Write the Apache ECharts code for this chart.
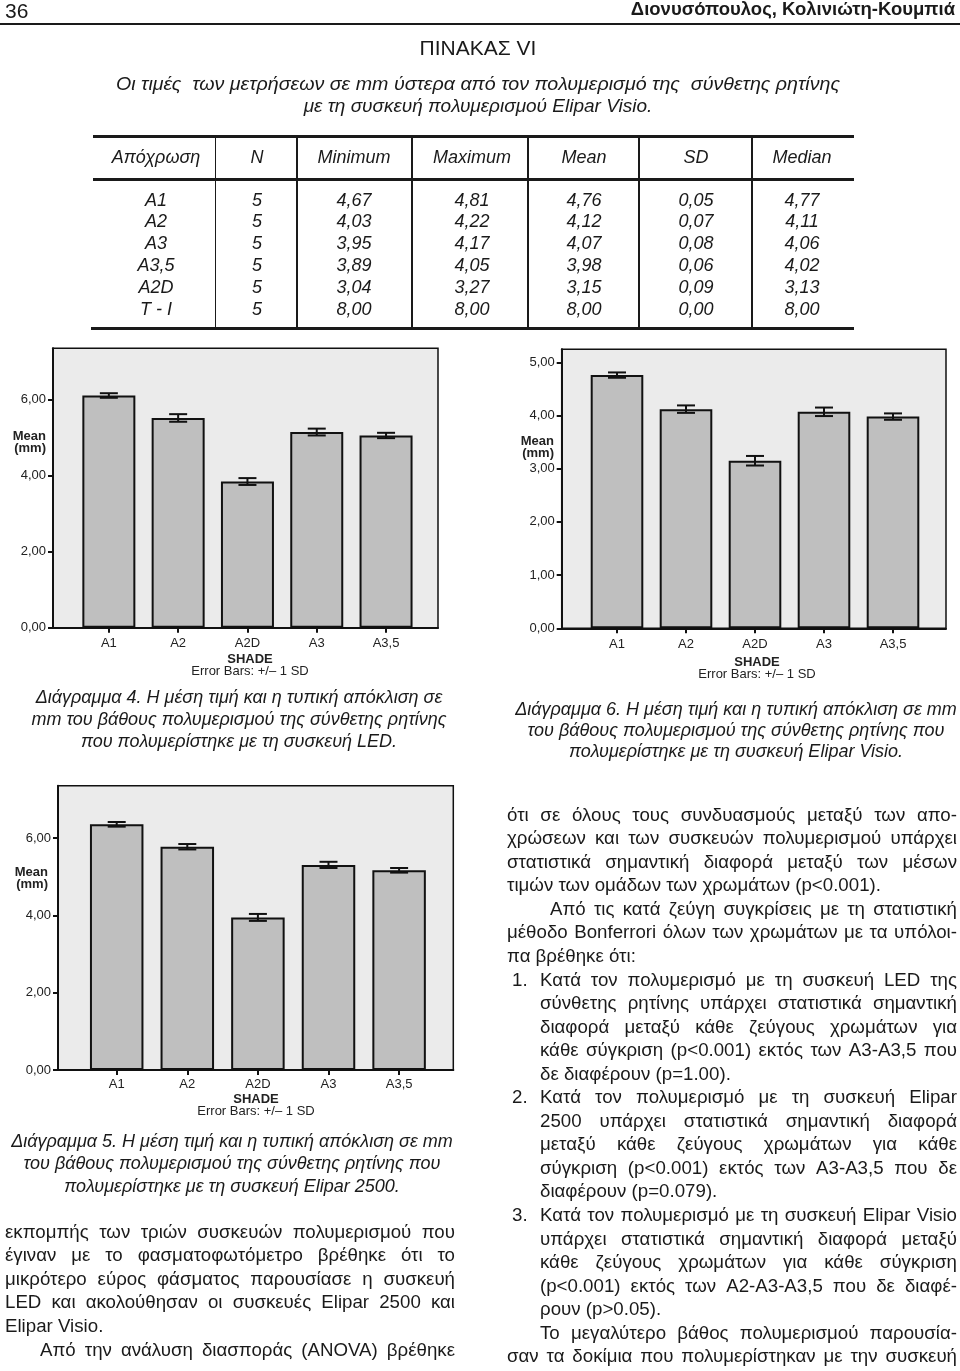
<!DOCTYPE html>
<html>
<head>
<meta charset="UTF-8">
<title>Πίνακας VI - Διαγράμματα 4-6</title>
<script src="https://cdn.jsdelivr.net/npm/echarts@6/dist/echarts.min.js"></script>
<style>
body {
    margin: 0;
    padding: 0;
    background: #fff;
}
#page {
    position: relative;
    width: 960px;
    height: 1371px;
    overflow: hidden;
    font-family: "Liberation Sans", Arial, sans-serif;
    color: #1a1a1a;
}
#charts {
    position: absolute;
    left: 0;
    top: 0;
    width: 960px;
    height: 1371px;
}
.t {
    position: absolute;
    white-space: pre;
    line-height: 1;
    z-index: 2;
}
.rule {
    position: absolute;
    background: #1a1a1a;
    z-index: 2;
}
</style>
</head>
<body>
<div id="page">
  <div id="charts"></div>
</div>

<script>
// ---- data ----
var categories = ['A1', 'A2', 'A2D', 'A3', 'A3,5'];

// Διάγραμμα 4 (LED)
var ledMean = [6.10, 5.51, 3.84, 5.14, 5.05];
var ledSd   = [0.06, 0.10, 0.09, 0.09, 0.07];
// Διάγραμμα 5 (Elipar 2500)
var e2500Mean = [6.36, 5.78, 3.95, 5.31, 5.17];
var e2500Sd   = [0.06, 0.07, 0.09, 0.08, 0.06];
// Διάγραμμα 6 (Elipar Visio)
var visioMean = [4.76, 4.12, 3.15, 4.07, 3.98];
var visioSd   = [0.05, 0.07, 0.09, 0.08, 0.06];

var ticksBy2 = [0, 2, 4, 6];
var ticksBy1 = [0, 1, 2, 3, 4, 5];

// Πίνακας VI
var tableHead   = ['Απόχρωση', 'N', 'Minimum', 'Maximum', 'Mean', 'SD', 'Median'];
var tableShade  = ['A1', 'A2', 'A3', 'A3,5', 'A2D', 'T - I'];
var tableN      = ['5', '5', '5', '5', '5', '5'];
var tableMin    = ['4,67', '4,03', '3,95', '3,89', '3,04', '8,00'];
var tableMax    = ['4,81', '4,22', '4,17', '4,05', '3,27', '8,00'];
var tableMeanV  = ['4,76', '4,12', '4,07', '3,98', '3,15', '8,00'];
var tableSd     = ['0,05', '0,07', '0,08', '0,06', '0,09', '0,00'];
var tableMedian = ['4,77', '4,11', '4,06', '4,02', '3,13', '8,00'];

// ---- text helpers ----
var page = document.getElementById('page');
var FONT = '"Liberation Sans", Arial, sans-serif';

// o: size, bold, italic, align (left|center|right), right (for justify), fit (target width)
function put(txt, x, y, o) {
    o = o || {};
    var size = o.size || 18;
    var d = document.createElement('div');
    d.className = 't';
    d.textContent = txt;
    d.style.fontSize = size + 'px';
    if (o.bold) d.style.fontWeight = 'bold';
    if (o.italic) d.style.fontStyle = 'italic';
    d.style.top = (y - size / 2) + 'px';
    d.style.left = '0px';
    page.appendChild(d);
    var w = d.getBoundingClientRect().width;
    if (o.right !== undefined) {
        var n = (txt.match(/ /g) || []).length;
        if (n > 0) d.style.wordSpacing = ((o.right - x - w) / n) + 'px';
        d.style.left = x + 'px';
        return d;
    }
    if (o.fit) {
        var s = o.fit / w;
        d.style.transformOrigin = '0 50%';
        d.style.transform = 'scaleX(' + s + ')';
        w = o.fit;
    }
    var a = o.align || 'left';
    if (a === 'center') d.style.left = (x - w / 2) + 'px';
    else if (a === 'right') d.style.left = (x - w) + 'px';
    else d.style.left = x + 'px';
    return d;
}
function rule(x1, x2, y, h) {
    var r = document.createElement('div');
    r.className = 'rule';
    r.style.left = x1 + 'px';
    r.style.top = (y - h / 2) + 'px';
    r.style.width = (x2 - x1) + 'px';
    r.style.height = h + 'px';
    page.appendChild(r);
}
function vrule(x, y1, y2, w) {
    var r = document.createElement('div');
    r.className = 'rule';
    r.style.left = (x - w / 2) + 'px';
    r.style.top = y1 + 'px';
    r.style.width = w + 'px';
    r.style.height = (y2 - y1) + 'px';
    page.appendChild(r);
}

// ---- running head ----
put('36', 5, 10, {size: 21});
put('Διονυσόπουλος, Κολινιώτη-Κουμπιά', 955, 9, {size: 18.5, bold: true, align: 'right'});
rule(0, 960, 24, 2);

// ---- table ----
put('ΠΙΝΑΚΑΣ VI', 478, 47, {size: 21, align: 'center'});
put('Οι τιμές  των μετρήσεων σε mm ύστερα από τον πολυμερισμό της  σύνθετης ρητίνης', 478, 83, {size: 19, italic: true, align: 'center', fit: 724});
put('με τη συσκευή πολυμερισμού Elipar Visio.', 478, 105, {size: 19, italic: true, align: 'center'});

var colX = [156, 257, 354, 472, 584, 696, 802];
var sepX = [215.5, 297, 412, 528, 639, 752];
var rowY = [199.5, 221.3, 243.2, 265, 286.8, 308.5];
rule(93, 854, 136.5, 3);
rule(93, 854, 179.5, 3);
rule(91, 854, 328.5, 3);
sepX.forEach(function (x) { vrule(x, 136, 329, 1.2); });
tableHead.forEach(function (h, i) {
    put(h, colX[i], 157, {size: 18, italic: true, align: 'center'});
});
var cols = [tableShade, tableN, tableMin, tableMax, tableMeanV, tableSd, tableMedian];
cols.forEach(function (col, c) {
    col.forEach(function (v, r) {
        put(v, colX[c], rowY[r], {size: 18, italic: true, align: 'center'});
    });
});

// ---- captions ----
var capStyle = {size: 18, italic: true, align: 'center'};
put('Διάγραμμα 4. Η μέση τιμή και η τυπική απόκλιση σε', 239, 697, capStyle);
put('mm του βάθους πολυμερισμού της σύνθετης ρητίνης', 239, 719, capStyle);
put('που πολυμερίστηκε με τη συσκευή LED.', 239, 741, capStyle);

put('Διάγραμμα 6. Η μέση τιμή και η τυπική απόκλιση σε mm', 736, 709, capStyle);
put('του βάθους πολυμερισμού της σύνθετης ρητίνης που', 736, 730, capStyle);
put('πολυμερίστηκε με τη συσκευή Elipar Visio.', 736, 751, capStyle);

put('Διάγραμμα 5. Η μέση τιμή και η τυπική απόκλιση σε mm', 232, 1141, capStyle);
put('του βάθους πολυμερισμού της σύνθετης ρητίνης που', 232, 1163, capStyle);
put('πολυμερίστηκε με τη συσκευή Elipar 2500.', 232, 1186, capStyle);

// ---- body text ----
// [text, left, justify, list number]
var rightLines = [
    ['ότι σε όλους τους συνδυασμούς μεταξύ των απο-', 507, 1],
    ['χρώσεων και των συσκευών πολυμερισμού υπάρχει', 507, 1],
    ['στατιστικά σημαντική διαφορά μεταξύ των μέσων', 507, 1],
    ['τιμών των ομάδων των χρωμάτων (p<0.001).', 507, 0],
    ['Από τις κατά ζεύγη συγκρίσεις με τη στατιστική', 550, 1],
    ['μέθοδο Bonferrori όλων των χρωμάτων με τα υπόλοι-', 507, 1],
    ['πα βρέθηκε ότι:', 507, 0],
    ['Κατά τον πολυμερισμό με τη συσκευή LED της', 540, 1, '1.'],
    ['σύνθετης ρητίνης υπάρχει στατιστικά σημαντική', 540, 1],
    ['διαφορά μεταξύ κάθε ζεύγους χρωμάτων για', 540, 1],
    ['κάθε σύγκριση (p<0.001) εκτός των A3-A3,5 που', 540, 1],
    ['δε διαφέρουν (p=1.00).', 540, 0],
    ['Κατά τον πολυμερισμό με τη συσκευή Elipar', 540, 1, '2.'],
    ['2500 υπάρχει στατιστικά σημαντική διαφορά', 540, 1],
    ['μεταξύ κάθε ζεύγους χρωμάτων για κάθε', 540, 1],
    ['σύγκριση (p<0.001) εκτός των A3-A3,5 που δε', 540, 1],
    ['διαφέρουν (p=0.079).', 540, 0],
    ['Κατά τον πολυμερισμό με τη συσκευή Elipar Visio', 540, 1, '3.'],
    ['υπάρχει στατιστικά σημαντική διαφορά μεταξύ', 540, 1],
    ['κάθε ζεύγους χρωμάτων για κάθε σύγκριση', 540, 1],
    ['(p<0.001) εκτός των A2-A3-A3,5 που δε διαφέ-', 540, 1],
    ['ρουν (p>0.05).', 540, 0],
    ['Το μεγαλύτερο βάθος πολυμερισμού παρουσία-', 540, 1],
    ['σαν τα δοκίμια που πολυμερίστηκαν με την συσκευή', 507, 1]
];
var bodySize = 18.7;
rightLines.forEach(function (l, k) {
    var y = 815 + 23.55 * k;
    put(l[0], l[1], y, l[2] ? {size: bodySize, right: 957} : {size: bodySize});
    if (l[3]) put(l[3], 512, y, {size: bodySize});
});

var leftLines = [
    ['εκπομπής των τριών συσκευών πολυμερισμού που', 5, 1],
    ['έγιναν με το φασματοφωτόμετρο βρέθηκε ότι το', 5, 1],
    ['μικρότερο εύρος φάσματος παρουσίασε η συσκευή', 5, 1],
    ['LED και ακολούθησαν οι συσκευές Elipar 2500 και', 5, 1],
    ['Elipar Visio.', 5, 0],
    ['Από την ανάλυση διασποράς (ANOVA) βρέθηκε', 40, 1]
];
leftLines.forEach(function (l, k) {
    var y = 1232 + 23.6 * k;
    put(l[0], l[1], y, l[2] ? {size: bodySize, right: 455} : {size: bodySize});
});

// ---- charts ----
function fmt(v) { return v.toFixed(2).replace('.', ','); }

var charts = [
    {frame: [53, 348.3, 438, 627.7], inner: [74.2, 420.7], max: 7.34, ticks: ticksBy2,
     mean: ledMean, sd: ledSd, barW: 53, meanAt: [46, 436], shadeAt: [250, 659.3], labelMargin: 9},
    {frame: [561.7, 349.3, 946, 628.3], inner: [582.5, 927.5], max: 5.245, ticks: ticksBy1,
     mean: visioMean, sd: visioSd, barW: 52.6, meanAt: [554, 441], shadeAt: [757, 662.3], labelMargin: 10},
    {frame: [58, 785.7, 453.3, 1070], inner: [81.4, 434.4], max: 7.36, ticks: ticksBy2,
     mean: e2500Mean, sd: e2500Sd, barW: 53.5, meanAt: [48, 872], shadeAt: [256, 1099.3], labelMargin: 8}
];

var grids = [], xAxes = [], yAxes = [], series = [], graphics = [];
var labelStyle = {color: '#222', fontSize: 13, fontFamily: FONT};

charts.forEach(function (c, i) {
    var f = c.frame;
    var g0 = grids.length, g1 = g0 + 1;
    grids.push({
        left: f[0], top: f[1], width: f[2] - f[0], height: f[3] - f[1],
        show: true, backgroundColor: '#ebebeb', borderColor: '#111', borderWidth: 1.5
    });
    grids.push({
        left: c.inner[0], top: f[1], width: c.inner[1] - c.inner[0], height: f[3] - f[1]
    });
    // frame axes
    xAxes.push({
        gridIndex: g0, type: 'value', min: 0, max: 1,
        axisLine: {show: true, lineStyle: {color: '#111', width: 2}},
        axisTick: {show: false}, axisLabel: {show: false}, splitLine: {show: false}
    });
    yAxes.push({
        gridIndex: g0, type: 'value', min: 0, max: c.max, interval: c.ticks[1],
        axisLine: {show: true, lineStyle: {color: '#111', width: 2}},
        axisTick: {show: true, length: 5, customValues: c.ticks, lineStyle: {color: '#111', width: 2}},
        axisLabel: Object.assign({margin: 7, customValues: c.ticks, formatter: fmt}, labelStyle),
        splitLine: {show: false}
    });
    // category axes for the bars
    xAxes.push({
        gridIndex: g1, type: 'category', data: categories,
        axisLine: {show: false},
        axisTick: {show: true, alignWithLabel: true, interval: 0, length: 5, lineStyle: {color: '#111', width: 2}},
        axisLabel: Object.assign({margin: c.labelMargin, interval: 0}, labelStyle),
        splitLine: {show: false}
    });
    yAxes.push({gridIndex: g1, type: 'value', min: 0, max: c.max, show: false, splitLine: {show: false}});

    series.push({
        type: 'bar', xAxisIndex: g1, yAxisIndex: g1,
        data: c.mean, barWidth: c.barW,
        itemStyle: {color: '#bfbfbf', borderColor: '#111', borderWidth: 2},
        silent: true
    });
    series.push({
        type: 'custom', xAxisIndex: g1, yAxisIndex: g1, z: 5,
        data: c.mean.map(function (m, k) { return [k, m - c.sd[k], m + c.sd[k]]; }),
        encode: {x: 0, y: [1, 2]},
        renderItem: function (params, api) {
            var top = api.coord([api.value(0), api.value(2)]);
            var bot = api.coord([api.value(0), api.value(1)]);
            var cx = top[0], half = 9;
            var st = {stroke: '#111', lineWidth: 2};
            return {
                type: 'group',
                children: [
                    {type: 'line', shape: {x1: cx, y1: top[1], x2: cx, y2: bot[1]}, style: st},
                    {type: 'line', shape: {x1: cx - half, y1: top[1], x2: cx + half, y2: top[1]}, style: st},
                    {type: 'line', shape: {x1: cx - half, y1: bot[1], x2: cx + half, y2: bot[1]}, style: st}
                ]
            };
        }
    });

    graphics.push(
        {type: 'text', x: c.meanAt[0], y: c.meanAt[1],
         style: {text: 'Mean', font: 'bold 13px ' + FONT, fill: '#222', textAlign: 'right', textVerticalAlign: 'middle'}},
        {type: 'text', x: c.meanAt[0], y: c.meanAt[1] + 12.5,
         style: {text: '(mm)', font: 'bold 13px ' + FONT, fill: '#222', textAlign: 'right', textVerticalAlign: 'middle'}},
        {type: 'text', x: c.shadeAt[0], y: c.shadeAt[1],
         style: {text: 'SHADE', font: 'bold 13px ' + FONT, fill: '#222', textAlign: 'center', textVerticalAlign: 'middle'}},
        {type: 'text', x: c.shadeAt[0], y: c.shadeAt[1] + 12.4,
         style: {text: 'Error Bars: +/\u2013 1 SD', font: '13px ' + FONT, fill: '#222', textAlign: 'center', textVerticalAlign: 'middle'}}
    );
});

var chart = echarts.init(document.getElementById('charts'), null, {renderer: 'canvas'});
chart.setOption({
    animation: false,
    grid: grids,
    xAxis: xAxes,
    yAxis: yAxes,
    series: series,
    graphic: graphics
});
</script>
</body>
</html>
